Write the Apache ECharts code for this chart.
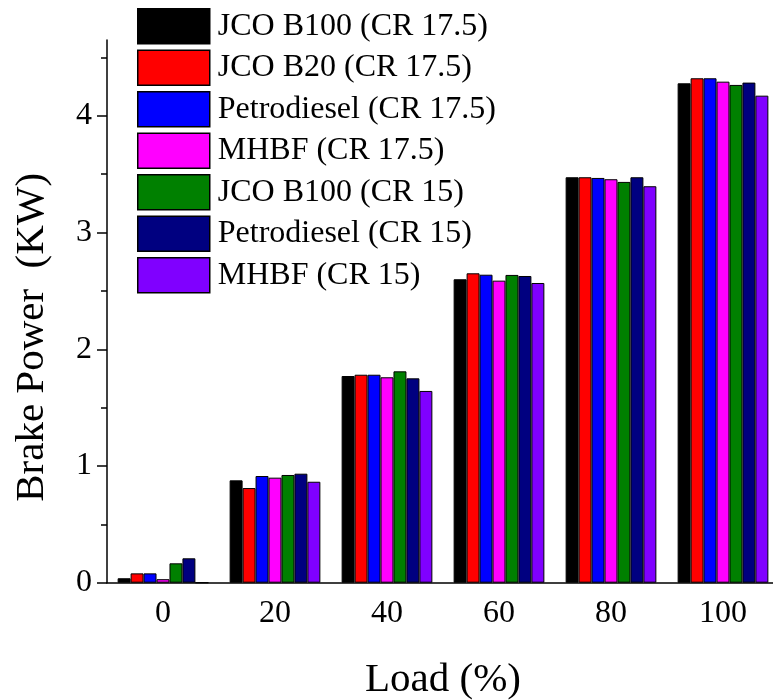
<!DOCTYPE html>
<html><head><meta charset="utf-8">
<script src="https://cdn.jsdelivr.net/npm/echarts@6/dist/echarts.min.js"></script>
<style>html,body{margin:0;padding:0;background:#fff}#c{width:773px;height:700px}</style>
</head><body><div id="c"></div>
<script>
const categories = ['0', '20', '40', '60', '80', '100'];
const seriesNames = ['JCO B100 (CR 17.5)', 'JCO B20 (CR 17.5)', 'Petrodiesel (CR 17.5)', 'MHBF (CR 17.5)', 'JCO B100 (CR 15)', 'Petrodiesel (CR 15)', 'MHBF (CR 15)'];
const jcoB100_cr175 = [0.038, 0.877, 1.771, 2.600, 3.474, 4.279];
const jcoB20_cr175 = [0.080, 0.811, 1.782, 2.651, 3.474, 4.322];
const petro_cr175 = [0.080, 0.914, 1.782, 2.639, 3.468, 4.322];
const mhbf_cr175 = [0.030, 0.900, 1.760, 2.588, 3.457, 4.293];
const jcoB100_cr15 = [0.166, 0.923, 1.811, 2.637, 3.434, 4.265];
const petro_cr15 = [0.209, 0.934, 1.751, 2.628, 3.474, 4.285];
const mhbf_cr15 = [0, 0.865, 1.643, 2.568, 3.397, 4.173];
const yTickLabels = ['0', '1', '2', '3', '4'];

const seriesData = [jcoB100_cr175, jcoB20_cr175, petro_cr175, mhbf_cr175, jcoB100_cr15, petro_cr15, mhbf_cr15];
const colors = ['#000000', '#ff0000', '#0000ff', '#ff00ff', '#008000', '#000080', '#8000ff'];
const FONT = "'Liberation Serif', 'Times New Roman', serif";

const chart = echarts.init(document.getElementById('c'), null, {renderer: 'canvas'});
const gridBase = {left: 107, right: -6, bottom: 117.3, containLabel: false, outerBoundsMode: 'none'};
const option = {
  animation: false,
  backgroundColor: '#fff',
  grid: [
    Object.assign({top: 40}, gridBase),
    Object.assign({top: 57.5}, gridBase),
    Object.assign({top: 115.9}, gridBase)
  ],
  legend: {
    orient: 'vertical', left: 137, top: 8, padding: 0,
    itemWidth: 72, itemHeight: 35, itemGap: 5, icon: 'rect',
    itemStyle: {borderColor: '#000', borderWidth: 1.5},
    textStyle: {fontFamily: FONT, fontSize: 32, color: '#000', padding: [0, 0, 0, 3]},
    data: seriesNames
  },
  xAxis: [
    {
      gridIndex: 0, type: 'category', data: categories,
      axisLine: {lineStyle: {color: '#000', width: 1.5}},
      axisTick: {alignWithLabel: true, length: 12, lineStyle: {color: '#000', width: 1.5}},
      axisLabel: {fontFamily: FONT, fontSize: 32, color: '#000', margin: 15},
      name: 'Load (%)', nameLocation: 'middle', nameGap: 77,
      nameTextStyle: {fontFamily: FONT, fontSize: 41, color: '#000'}
    },
    {
      gridIndex: 1, type: 'category', data: categories,
      axisLine: {show: false},
      axisTick: {alignWithLabel: false, length: 6, lineStyle: {color: '#000', width: 1.5}},
      axisLabel: {show: false}
    },
    {gridIndex: 2, type: 'category', data: categories, show: false}
  ],
  yAxis: [
    {
      gridIndex: 0, type: 'value', min: 0, max: 4.65,
      axisLine: {show: true, lineStyle: {color: '#000', width: 1.5}},
      axisTick: {show: false}, axisLabel: {show: false}, splitLine: {show: false}
    },
    {
      gridIndex: 1, type: 'value', min: 0, max: 4.5, interval: 0.5,
      axisLine: {show: false},
      axisTick: {show: true, length: 6, lineStyle: {color: '#000', width: 1.5}},
      axisLabel: {show: false}, splitLine: {show: false}
    },
    {
      gridIndex: 2, type: 'value', min: 0, max: 4, interval: 1,
      axisLine: {show: false},
      axisTick: {show: true, length: 10, lineStyle: {color: '#000', width: 1.5}},
      axisLabel: {fontFamily: FONT, fontSize: 32, color: '#000', margin: 15,
        formatter: function (v) { const i = Math.round(v); return yTickLabels[i] !== undefined ? yTickLabels[i] : ''; }},
      splitLine: {show: false},
      name: 'Brake Power  (KW)', nameLocation: 'middle', nameGap: 54, nameRotate: 90,
      nameTextStyle: {fontFamily: FONT, fontSize: 41, color: '#000', padding: [0, 0, 0, 24]}
    }
  ],
  series: seriesNames.map(function (name, i) {
    return {
      name: name, type: 'bar', xAxisIndex: 0, yAxisIndex: 0,
      data: seriesData[i],
      barGap: '0%', barCategoryGap: '19%',
      itemStyle: {color: colors[i], borderColor: '#000', borderWidth: 1}
    };
  })
};
chart.setOption(option);
</script></body></html>
